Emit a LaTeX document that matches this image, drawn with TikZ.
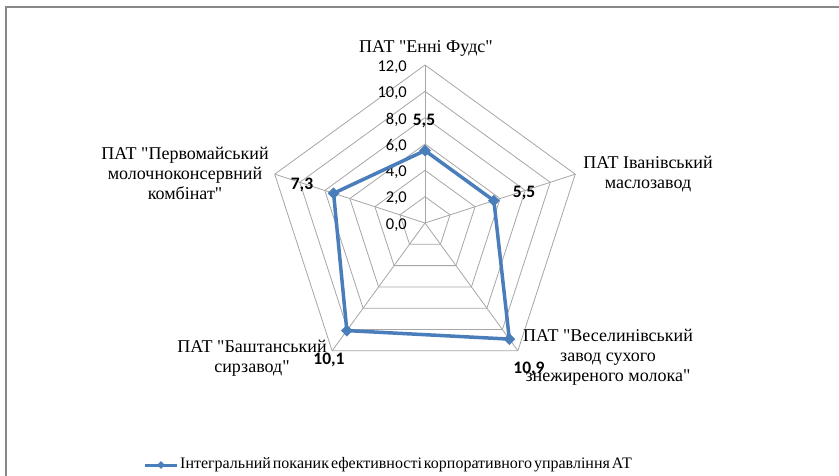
\documentclass[tikz,border=0pt]{standalone}
\usepackage{fontspec}
\setmainfont[Ligatures=TeXOff]{Liberation Serif}
\newfontfamily\calibrifont{Carlito}
\usetikzlibrary{positioning,shapes.geometric}
\definecolor{seriesblue}{HTML}{4A7EBB}
\definecolor{gridgray}{HTML}{A6A6A6}
\definecolor{framegray}{HTML}{888888}
\newcommand\legspacing{\spaceskip=2pt plus 1pt minus 0.5pt\relax}

\begin{document}
\begin{tikzpicture}[x=1pt,y=-1pt,
  catlabel/.style={align=center,inner sep=0pt,font=\fontsize{18}{20}\selectfont},
  legtext/.style={inner sep=0pt,font=\fontsize{16}{18}\selectfont\legspacing},
  ticklabel/.style={anchor=east,inner sep=0pt,font=\calibrifont\fontsize{16.5}{18}\selectfont},
  vallabel/.style={inner sep=0pt,font=\calibrifont\bfseries\fontsize{17.5}{18}\selectfont},
  datamark/.style={diamond,fill=seriesblue,inner sep=0pt,minimum size=12pt},
  seriesline/.style={seriesblue,line width=3.5pt,line join=round}]
\useasboundingbox (0,0) rectangle (839,476);

% chart frame
\draw [framegray,line width=2pt](6,476)--(6,7)--(839,7);

\begin{scope}[shift={(425,223)},y=1pt]
% grid
\foreach \lvl in {1,...,6}
  \draw [gridgray,line width=0.8pt](90:\lvl*26.333)--(18:\lvl*26.333)--(-54:\lvl*26.333)--(-126:\lvl*26.333)--(162:\lvl*26.333)--cycle;
\foreach \ang in {90,18,-54,-126,162}
  \draw [gridgray,line width=0.8pt](0,0)--(\ang:158);
% axis values
\foreach \lvl/\txt in {0/{0,0},1/{2,0},2/{4,0},3/{6,0},4/{8,0},5/{10,0},6/{12,0}}
  \node[ticklabel] (tick\lvl) at (-18,\lvl*26.333-2) {\txt};
% data
\coordinate (enni) at (90:5.5*13.1667);
\coordinate (ivan) at (18:5.5*13.1667);
\coordinate (vesel) at (-54:10.9*13.1667);
\coordinate (bash) at (-126:10.1*13.1667);
\coordinate (perv) at (162:7.3*13.1667);
\draw [seriesline](enni)--(ivan)--(vesel)--(bash)--(perv)--cycle;
\foreach \pt in {enni,ivan,vesel,bash,perv}
  \node[datamark] (m\pt) at (\pt) {};
\end{scope}

\node[vallabel] (venni) at (424,121) {5,5};
\node[vallabel] (vivan) at (524,193) {5,5};
\node[vallabel] (vvesel) at (529,369) {10,9};
\node[vallabel] (vbash) at (329,360) {10,1};
\node[vallabel] (vperv) at (302,185) {7,3};

% categories
\node[catlabel] (cenni) at (426,48) {ПАТ "Енні Фудс"};
\node[catlabel] (civan) at (648,174) {ПАТ Іванівський\\маслозавод};
\node[catlabel] (cvesel) at (608,357) {ПАТ "Веселинівський\\завод сухого\\знежиреного молока"};
\node[catlabel] (cbash) at (252,358) {ПАТ "Баштанський\\сирзавод"};
\node[catlabel] (cperv) at (185,173) {ПАТ "Первомайський\\молочноконсервний\\комбінат"};

% legend
\coordinate (legA) at (145,465);
\coordinate (legB) at (177,465);
\draw [seriesblue,line width=3pt](legA)--(legB);
\node[datamark,minimum size=8pt] (legmark) at (161,465) {};
\node[legtext,anchor=west] (legend) at (180,465) {Інтегральний поканик ефективності корпоративного управління АТ};
\end{tikzpicture}
\end{document}
